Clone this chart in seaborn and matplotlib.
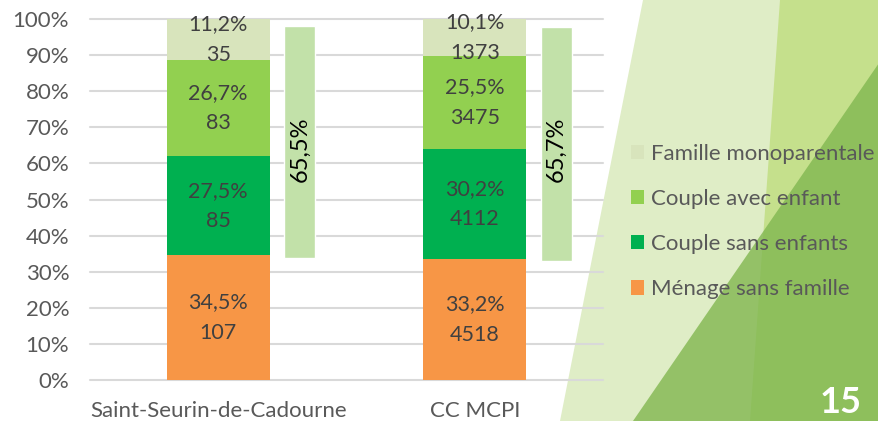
import matplotlib
matplotlib.use("Agg")
import matplotlib.pyplot as plt
import seaborn as sns
import pandas as pd
import numpy as np
from matplotlib.patches import Polygon, Patch

# données
zones = ["Saint-Seurin-de-Cadourne", "CC MCPI"]
categories = ["Ménage sans famille", "Couple sans enfants", "Couple avec enfant", "Famille monoparentale"]
counts_saint = [107, 85, 83, 35]
counts_cc = [4518, 4112, 3475, 1373]
pct_saint = [34.5, 27.5, 26.7, 11.2]
pct_cc = [33.2, 30.2, 25.5, 10.1]
couple_share = [65.5, 65.7]
couple_low = [33.8, 33.0]
couple_high = [98.1, 97.9]
colors = ["#F79646", "#00B050", "#92D050", "#D8E4BC"]

sns.set_theme(style="white")
plt.rcParams['font.family'] = ['Lato', 'DejaVu Sans']

fig = plt.figure(figsize=(8.79, 4.21), dpi=100)
fig.patch.set_facecolor("white")

# décor de la diapo (coordonnées pixels, y depuis le haut)
def px(points):
    return [(x / 879, 1 - y / 421) for x, y in points]

fig.patches.append(Polygon(px([(643, 0), (879, 0), (879, 421), (560, 421)]), closed=True,
                           transform=fig.transFigure, facecolor="#DFEDC6", edgecolor="none", zorder=-5))
fig.patches.append(Polygon(px([(780, 0), (879, 0), (879, 421), (750, 421)]), closed=True,
                           transform=fig.transFigure, facecolor="#C5E08C", edgecolor="none", zorder=-4))
fig.patches.append(Polygon(px([(879, 63), (879, 421), (633, 421)]), closed=True,
                           transform=fig.transFigure, facecolor="#81B750", alpha=0.8,
                           edgecolor="none", zorder=-3))
fig.text(841 / 879, 1 - 386 / 421, "15", color="white", fontsize=26, fontweight="bold",
         ha="center", va="top")

ax = fig.add_axes([90 / 879, 41 / 421, 513 / 879, 361 / 421])
ax.patch.set_alpha(0)

# 100% empilé : parts calculées à partir des effectifs
counts = np.array([counts_saint, counts_cc], dtype=float)
shares = counts / counts.sum(axis=1, keepdims=True) * 100
cum = shares.cumsum(axis=1)

for k in range(len(categories) - 1, -1, -1):
    df = pd.DataFrame({"zone": zones, "val": cum[:, k]})
    sns.barplot(data=df, x="zone", y="val", color=colors[k], saturation=1, width=0.4,
                linewidth=0, ax=ax, zorder=3)

pcts = [pct_saint, pct_cc]
cnts = [counts_saint, counts_cc]
for i in range(len(zones)):
    for k in range(len(categories)):
        mid = cum[i, k] - shares[i, k] / 2
        txt = f"{pcts[i][k]:.1f}%".replace(".", ",") + f"\n{cnts[i][k]}"
        ax.text(i, mid, txt, ha="center", va="center", fontsize=15.5, color="#404040",
                linespacing=1.65, zorder=5)

# barre fine : part des familles
xs = np.arange(len(zones)) + 0.318
ax.bar(xs, np.array(couple_high) - np.array(couple_low), bottom=couple_low, width=0.12,
       color="#C2E1A9", zorder=3)
for i in range(len(zones)):
    ax.text(xs[i], 64, f"{couple_share[i]:.1f}%".replace(".", ","), rotation=90,
            ha="center", va="center", fontsize=17, color="black", zorder=5)

ax.set_ylim(0, 100)
ax.set_xlim(-0.5, 1.5)
ax.set_yticks(np.arange(0, 101, 10))
ax.set_yticklabels([f"{v}%" for v in range(0, 101, 10)])
ax.yaxis.grid(True, color="#D9D9D9", linewidth=1.5, zorder=0)
ax.set_axisbelow(True)
ax.set_xlabel("")
ax.set_ylabel("")
ax.tick_params(axis="y", labelsize=16, labelcolor="#595959", pad=15, length=0)
ax.tick_params(axis="x", labelsize=16, labelcolor="#595959", pad=15, length=0)
sns.despine(ax=ax, left=True, bottom=True)
for line in ax.get_ygridlines():
    line.set_clip_on(False)

handles = [Patch(facecolor=colors[k], edgecolor="none", label=categories[k]) for k in range(3, -1, -1)]
fig.legend(handles=handles, loc="upper left", bbox_to_anchor=(631 / 879, 1 - 144 / 421),
           frameon=False, fontsize=16, labelcolor="#595959", handlelength=0.6,
           handleheight=0.6, handletextpad=0.3, labelspacing=1.13, borderpad=0,
           borderaxespad=0)

fig.savefig("out.png", dpi=100)
